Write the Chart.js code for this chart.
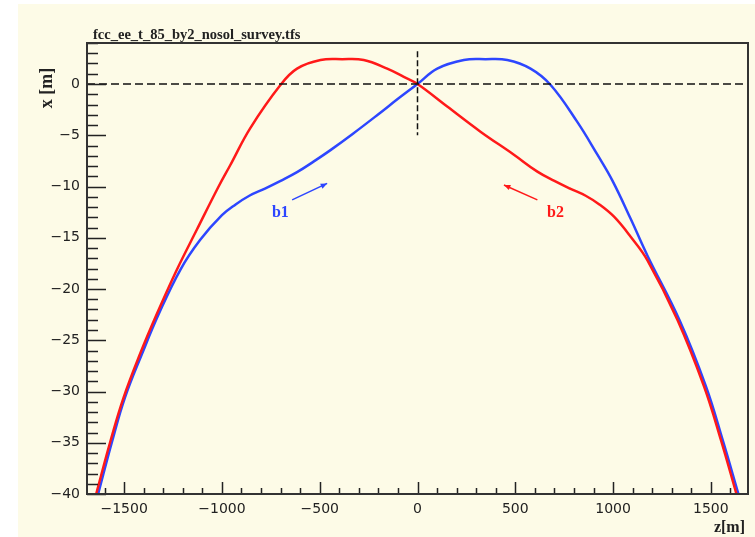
<!DOCTYPE html>
<html>
<head>
<meta charset="utf-8">
<script src="https://cdn.jsdelivr.net/npm/chart.js@4"></script>
<style>
  body { margin: 0; background: #ffffff; }
  #wrap { width: 755px; height: 537px; }
</style>
</head>
<body>
<div id="wrap"><canvas id="surveyChart" width="755" height="537"></canvas></div>
<script>
// axis range
var zMin = -1690, zMax = 1690;
var xMin = -40, xMax = 4;

// b1 (blue beam) survey, z [m] and x [m]
var b1Z = [-1633, -1562, -1496, -1408, -1322, -1212, -1111, -1000, -930, -860, -780, -700, -616, -530, -445, -330, -200, -100, 0, 101, 237, 348, 459, 578, 681, 817, 920, 996, 1090, 1176, 1339, 1475, 1560, 1641];
var b1X = [-40, -34.9, -30.6, -26.3, -22.4, -18.1, -15.2, -12.8, -11.75, -10.9, -10.2, -9.45, -8.6, -7.55, -6.45, -4.85, -2.95, -1.45, 0, 1.5, 2.34, 2.42, 2.34, 1.5, -0.1, -3.7, -6.9, -9.4, -13.15, -16.75, -23.0, -29.5, -34.7, -40];

// b2 (red beam) survey
var b2Z = [-1643, -1571, -1503, -1418, -1332, -1230, -1128, -1017, -957, -855, -701, -616, -496, -385, -275, -155, -70, 0, 152, 322, 493, 613, 700, 780, 860, 930, 1005, 1090, 1176, 1329, 1465, 1551, 1631];
var b2X = [-40, -34.9, -30.6, -26.3, -22.4, -18.1, -14.2, -10.0, -7.9, -4.3, -0.1, 1.5, 2.34, 2.42, 2.34, 1.5, 0.7, 0, -2.2, -4.65, -6.9, -8.55, -9.45, -10.2, -10.9, -11.75, -12.95, -14.9, -17.2, -23.0, -29.5, -34.7, -40];

// reference dashed lines
var hLineZ = [zMin, zMax], hLineX = [0, 0];
var vLineZ = [0, 0], vLineX = [3.2, -5];

// tick labels
var zTicks = [-1500, -1000, -500, 0, 500, 1000, 1500];
var xTicks = [-40, -35, -30, -25, -20, -15, -10, -5, 0];

// direction arrows [zFrom, xFrom, zTo, xTo] and labels [z, x]
var b1Arrow = [-641, -11.3, -462, -9.7];
var b2Arrow = [613, -11.3, 442, -9.85];
var b1Label = [-701, -12.6];
var b2Label = [706, -12.6];

var blue = 'rgb(45, 70, 255)';
var red = 'rgb(255, 25, 25)';

function toPoints(zs, xs) {
    return zs.map((z, i) => ({ x: z, y: xs[i] }));
}

function minus(v) {
    return String(v).replace('-', '\u2212');
}

var rootFrame = {
    id: 'rootFrame',
    beforeDraw(chart) {
        var ctx = chart.ctx;
        ctx.save();
        ctx.fillStyle = '#ffffff';
        ctx.fillRect(0, 0, chart.width, chart.height);
        ctx.fillStyle = '#fdfbe7';
        ctx.fillRect(18, 4, chart.width - 18, chart.height - 4);
        ctx.restore();
    },
    afterDraw(chart) {
        var ctx = chart.ctx;
        var a = chart.chartArea;
        var sx = chart.scales.x, sy = chart.scales.y;
        ctx.save();

        // inward ticks
        ctx.strokeStyle = '#222';
        ctx.lineWidth = 1.5;
        ctx.beginPath();
        for (var z = -1600; z <= zMax; z += 100) {
            var px = Math.round(sx.getPixelForValue(z)) + 0.5;
            var len = (z % 500 === 0) ? 12 : 6;
            ctx.moveTo(px, a.bottom);
            ctx.lineTo(px, a.bottom - len);
        }
        for (var v = xMin; v <= xMax; v += 1) {
            var py = Math.round(sy.getPixelForValue(v)) + 0.5;
            var l = (v % 5 === 0) ? 19 : 11;
            ctx.moveTo(a.left, py);
            ctx.lineTo(a.left + l, py);
        }
        ctx.stroke();

        // frame
        ctx.strokeStyle = '#333';
        ctx.lineWidth = 2;
        ctx.strokeRect(a.left, a.top, a.right - a.left, a.bottom - a.top);

        // tick labels
        ctx.fillStyle = '#222';
        ctx.font = '14px "DejaVu Sans"';
        ctx.textAlign = 'center';
        ctx.textBaseline = 'top';
        zTicks.forEach(t => ctx.fillText(minus(t), sx.getPixelForValue(t), a.bottom + 8));
        ctx.textAlign = 'right';
        ctx.textBaseline = 'middle';
        xTicks.forEach(t => ctx.fillText(minus(t), a.left - 7, sy.getPixelForValue(t)));

        // arrows
        function arrow(p, color) {
            var x1 = sx.getPixelForValue(p[0]), y1 = sy.getPixelForValue(p[1]);
            var x2 = sx.getPixelForValue(p[2]), y2 = sy.getPixelForValue(p[3]);
            var ang = Math.atan2(y2 - y1, x2 - x1);
            ctx.strokeStyle = color;
            ctx.fillStyle = color;
            ctx.lineWidth = 1.5;
            ctx.beginPath();
            ctx.moveTo(x1, y1);
            ctx.lineTo(x2, y2);
            ctx.stroke();
            ctx.beginPath();
            ctx.moveTo(x2, y2);
            ctx.lineTo(x2 - 7 * Math.cos(ang - 0.4), y2 - 7 * Math.sin(ang - 0.4));
            ctx.lineTo(x2 - 7 * Math.cos(ang + 0.4), y2 - 7 * Math.sin(ang + 0.4));
            ctx.closePath();
            ctx.fill();
        }
        arrow(b1Arrow, blue);
        arrow(b2Arrow, red);

        ctx.font = 'bold 16px "Liberation Serif"';
        ctx.textAlign = 'center';
        ctx.textBaseline = 'middle';
        ctx.fillStyle = blue;
        ctx.fillText('b1', sx.getPixelForValue(b1Label[0]), sy.getPixelForValue(b1Label[1]));
        ctx.fillStyle = red;
        ctx.fillText('b2', sx.getPixelForValue(b2Label[0]), sy.getPixelForValue(b2Label[1]));

        // titles
        ctx.fillStyle = '#222';
        ctx.font = 'bold 14.5px "Liberation Serif"';
        ctx.textAlign = 'left';
        ctx.textBaseline = 'alphabetic';
        ctx.fillText('fcc_ee_t_85_by2_nosol_survey.tfs', 93, 39);

        ctx.font = 'bold 16px "Liberation Serif"';
        ctx.textAlign = 'right';
        ctx.fillText('z[m]', 745, 532);

        ctx.font = 'bold 18px "Liberation Serif"';
        ctx.translate(52, 88);
        ctx.rotate(-Math.PI / 2);
        ctx.textAlign = 'center';
        ctx.fillText('x [m]', 0, 0);
        ctx.restore();
    }
};

var ctx = document.getElementById('surveyChart').getContext('2d');
var surveyChart = new Chart(ctx, {
    type: 'line',
    data: {
        datasets: [
            {
                data: toPoints(hLineZ, hLineX),
                borderColor: '#111',
                borderWidth: 1.5,
                borderDash: [8, 4],
                pointRadius: 0
            },
            {
                data: toPoints(vLineZ, vLineX),
                borderColor: '#111',
                borderWidth: 1.5,
                borderDash: [6, 3],
                pointRadius: 0
            },
            {
                label: 'b2',
                data: toPoints(b2Z, b2X),
                borderColor: red,
                borderWidth: 2.5,
                pointRadius: 0,
                tension: 0.4
            },
            {
                label: 'b1',
                data: toPoints(b1Z, b1X),
                borderColor: blue,
                borderWidth: 2.5,
                pointRadius: 0,
                tension: 0.4
            }
        ]
    },
    options: {
        responsive: false,
        animation: false,
        layout: {
            padding: { top: 43, right: 7, left: 87, bottom: 43 }
        },
        plugins: {
            legend: { display: false },
            tooltip: { enabled: false },
            title: { display: false }
        },
        scales: {
            x: {
                type: 'linear',
                min: zMin,
                max: zMax,
                display: false
            },
            y: {
                type: 'linear',
                min: xMin,
                max: xMax,
                display: false
            }
        }
    },
    plugins: [rootFrame]
});
</script>
</body>
</html>
